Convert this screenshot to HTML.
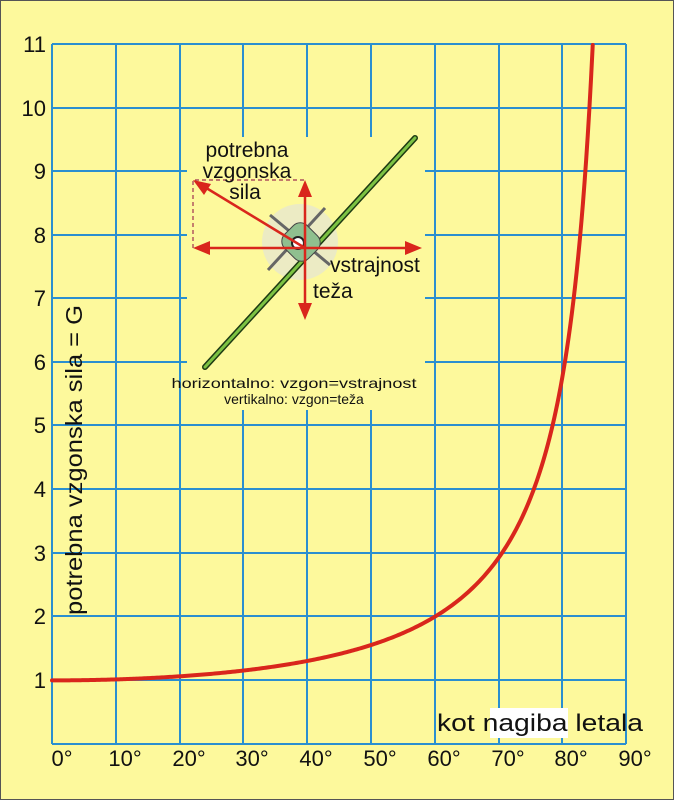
<!DOCTYPE html>
<html><head><style>
html,body{margin:0;padding:0;background:#fdf99c;}
svg{display:block;}
text{font-family:"Liberation Sans",sans-serif;fill:#111;}
</style></head><body>
<svg width="674" height="800" viewBox="0 0 674 800" xmlns="http://www.w3.org/2000/svg">
<rect x="0.5" y="0.5" width="673" height="799" fill="#fdf99c" stroke="#555" stroke-width="1"/>
<g stroke="#2a8fd0" stroke-width="2">
<line x1="52" y1="44" x2="52" y2="744"/>
<line x1="116" y1="44" x2="116" y2="744"/>
<line x1="180" y1="44" x2="180" y2="744"/>
<line x1="243" y1="44" x2="243" y2="744"/>
<line x1="307" y1="44" x2="307" y2="744"/>
<line x1="371" y1="44" x2="371" y2="744"/>
<line x1="435" y1="44" x2="435" y2="744"/>
<line x1="499" y1="44" x2="499" y2="744"/>
<line x1="562" y1="44" x2="562" y2="744"/>
<line x1="626" y1="44" x2="626" y2="744"/>
<line x1="52" y1="44" x2="626" y2="44"/>
<line x1="52" y1="108" x2="626" y2="108"/>
<line x1="52" y1="171" x2="626" y2="171"/>
<line x1="52" y1="235" x2="626" y2="235"/>
<line x1="52" y1="298" x2="626" y2="298"/>
<line x1="52" y1="362" x2="626" y2="362"/>
<line x1="52" y1="425" x2="626" y2="425"/>
<line x1="52" y1="489" x2="626" y2="489"/>
<line x1="52" y1="553" x2="626" y2="553"/>
<line x1="52" y1="616" x2="626" y2="616"/>
<line x1="52" y1="680" x2="626" y2="680"/>
<line x1="52" y1="744" x2="626" y2="744"/>
</g>
<rect x="187" y="137" width="238" height="273" fill="#fdf99c"/>
<rect x="490" y="708" width="78" height="30" fill="#fff"/>
<g font-size="22" text-anchor="end">
<text x="46" y="52">11</text><text x="46" y="116">10</text><text x="46" y="179">9</text>
<text x="46" y="243">8</text><text x="46" y="306">7</text><text x="46" y="370">6</text>
<text x="46" y="433">5</text><text x="46" y="497">4</text><text x="46" y="561">3</text>
<text x="46" y="624">2</text><text x="46" y="688">1</text>
</g>
<g font-size="22" text-anchor="middle">
<text x="62" y="766">0°</text><text x="125" y="766">10°</text><text x="189" y="766">20°</text>
<text x="252" y="766">30°</text><text x="316" y="766">40°</text><text x="380" y="766">50°</text>
<text x="444" y="766">60°</text><text x="508" y="766">70°</text><text x="571" y="766">80°</text>
<text x="635" y="766">90°</text>
</g>
<text x="437" y="731" font-size="24" textLength="206" lengthAdjust="spacingAndGlyphs">kot nagiba letala</text>
<text transform="translate(82,460) rotate(-90)" font-size="23" text-anchor="middle" textLength="310" lengthAdjust="spacingAndGlyphs">potrebna vzgonska sila = G</text>
<path id="curve" fill="none" stroke="#d9261c" stroke-width="4" stroke-linecap="round" d=""/>
<script>
(function(){var d="";for(var t=0;t<=84.78;t+=0.25){var g=1/Math.cos(t*Math.PI/180);var x=52+t*63.78/10;var y=744-g*63.6;d+=(t==0?"M":"L")+x.toFixed(2)+" "+y.toFixed(2);}
var t2=84.78,g2=1/Math.cos(t2*Math.PI/180);d+="L"+(52+t2*6.378).toFixed(2)+" "+(744-g2*63.6).toFixed(2);
document.getElementById("curve").setAttribute("d",d);})();
</script>
<circle cx="300" cy="242" r="38" fill="#ecebc4"/>
<line x1="205" y1="367" x2="415" y2="138" stroke="#1d3a12" stroke-width="6" stroke-linecap="round"/>
<line x1="205" y1="367" x2="415" y2="138" stroke="#7cc243" stroke-width="3" stroke-linecap="round"/>
<line x1="270" y1="215" x2="330" y2="265" stroke="#666" stroke-width="3"/>
<line x1="325" y1="208" x2="268" y2="270" stroke="#666" stroke-width="3"/>
<rect x="285" y="225" width="32" height="34" rx="10" fill="#8fbf8f" stroke="#444" transform="rotate(-45 301 242)"/>
<circle cx="298" cy="243" r="6" fill="#fff" stroke="#222" stroke-width="2"/>
<g stroke="#a03050" stroke-width="1.2" stroke-dasharray="4,3" fill="none">
<path d="M193 248 L193 180 L305 180"/>
</g>
<g stroke="#d9261c" stroke-width="2.5" fill="#d9261c">
<line x1="305" y1="248" x2="305" y2="192"/><polygon points="305,180 298,197 312,197" stroke="none"/>
<line x1="305" y1="248" x2="305" y2="308"/><polygon points="305,320 298,303 312,303" stroke="none"/>
<line x1="305" y1="248" x2="205" y2="248"/><polygon points="193,248 210,241 210,255" stroke="none"/>
<line x1="305" y1="248" x2="410" y2="248"/><polygon points="422,248 405,241 405,255" stroke="none"/>
<line x1="305" y1="248" x2="203" y2="186"/><polygon points="193,180 211,184 204,195" stroke="none"/>
</g>
<g font-size="21" text-anchor="middle">
<text x="247" y="157">potrebna</text>
<text x="247" y="178">vzgonska</text>
<text x="245" y="199">sila</text>
</g>
<text x="330" y="272" font-size="21">vstrajnost</text>
<text x="313" y="298" font-size="21">teža</text>
<g font-size="14" text-anchor="middle">
<text x="294" y="388" textLength="245" lengthAdjust="spacingAndGlyphs">horizontalno: vzgon=vstrajnost</text>
<text x="294" y="404">vertikalno: vzgon=teža</text>
</g>
</svg>
</body></html>
